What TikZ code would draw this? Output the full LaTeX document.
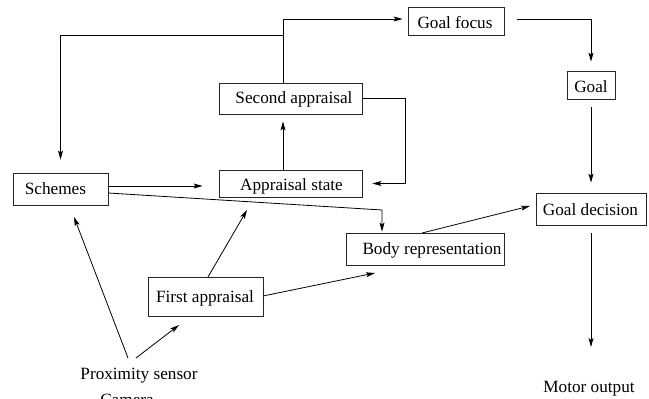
\documentclass[tikz,border=0pt]{standalone}
\usepackage{fontspec}
\setmainfont{Liberation Serif}
\usetikzlibrary{arrows.meta,calc}
\tikzset{
  box/.style={draw=black!85, line width=0.8pt, inner sep=0pt, rectangle},
  txt/.style={inner sep=0pt, anchor=base, font=\fontsize{17.2}{20}\selectfont},
  arr/.style={line width=0.8pt, -{Stealth[length=9pt,width=5pt,inset=2pt]}},
  ln/.style={line width=0.8pt}
}
\begin{document}
\begin{tikzpicture}[x=1pt,y=-1pt]
\useasboundingbox (0,0) rectangle (649,399);
\clip (0,0) rectangle (649,399);
% boxes
\node[box, minimum width=95, minimum height=32] (sc) at (60.5,189) {};
\node[box, minimum width=143, minimum height=31] (sa) at (290.5,98.5) {};
\node[box, minimum width=143, minimum height=27] (as) at (290.5,183.5) {};
\node[box, minimum width=96, minimum height=28] (gf) at (456,21) {};
\node[box, minimum width=48, minimum height=28] (goal) at (591,85) {};
\node[box, minimum width=110, minimum height=32] (gd) at (591,209) {};
\node[box, minimum width=158, minimum height=32] (br) at (425,249) {};
\node[box, minimum width=115, minimum height=39] (fa) at (205.5,296.5) {};
% texts
\node[txt] (scT) at (55.5,194) {Schemes};
\node[txt] (saT) at (294,103) {Second appraisal};
\node[txt] (asT) at (291.5,190) {Appraisal state};
\node[txt] (gfT) at (455,28) {Goal focus};
\node[txt] (goalT) at (591,92) {Goal};
\node[txt] (gdT) at (590.5,215) {Goal decision};
\node[txt] (brT) at (432,254) {Body representation};
\node[txt] (faT) at (205,302) {First appraisal};
\node[txt] (ps) at (139,379) {Proximity sensor};
\node[txt] (cam) at (127,405) {Camera};
\node[txt] (mo) at (589,392) {Motor output};
% helper coordinates
\coordinate (j1) at (283,19);
\coordinate (j2) at (283,35);
\coordinate (j3) at (405,98);
\coordinate (j4) at (382,210);
\coordinate (l8) at (0,186);
\coordinate (l9) at (0,193);
\coordinate (s10) at (422,233);
\coordinate (t10) at (530,206);
\coordinate (s11) at (263,296);
\coordinate (t11) at (375,273);
\coordinate (s12) at (208,277);
\coordinate (t12) at (247,210);
\coordinate (s13) at (128,358);
\coordinate (t13) at (74,217);
\coordinate (s14) at (136,358);
\coordinate (t14) at (179,325);
\coordinate (s5) at (591,233);
\coordinate (t5) at (591,347);
% connectors
\draw[arr, shorten >=5pt] (sa.north -| j1) -- (j1) -- (gf.west |- j1);
\draw[arr, shorten >=13pt] (j2) -| (sc.north);
\draw[arr, shorten <=13pt, shorten >=9pt] (gf.east |- j1) -| (goal.north);
\draw[arr, shorten <=8pt, shorten >=10pt] (goal.south) -- (gd.north);
\draw[arr] (s5) -- (t5);
\draw[arr, shorten >=10pt] (sa.east |- j3) -- (j3) |- (as.east);
\draw[arr, shorten >=7pt] (as.north -| j1) -- (sa.south -| j1);
\draw[arr, shorten >=16pt] (sc.east |- l8) -- (as.west |- l8);
\draw[arr, shorten >=1pt] (sc.east |- l9) -- (j4) -- (br.north -| j4);
\draw[arr] (s10) -- (t10);
\draw[arr] (s11) -- (t11);
\draw[arr] (s12) -- (t12);
\draw[arr] (s13) -- (t13);
\draw[arr] (s14) -- (t14);
\end{tikzpicture}
\end{document}
